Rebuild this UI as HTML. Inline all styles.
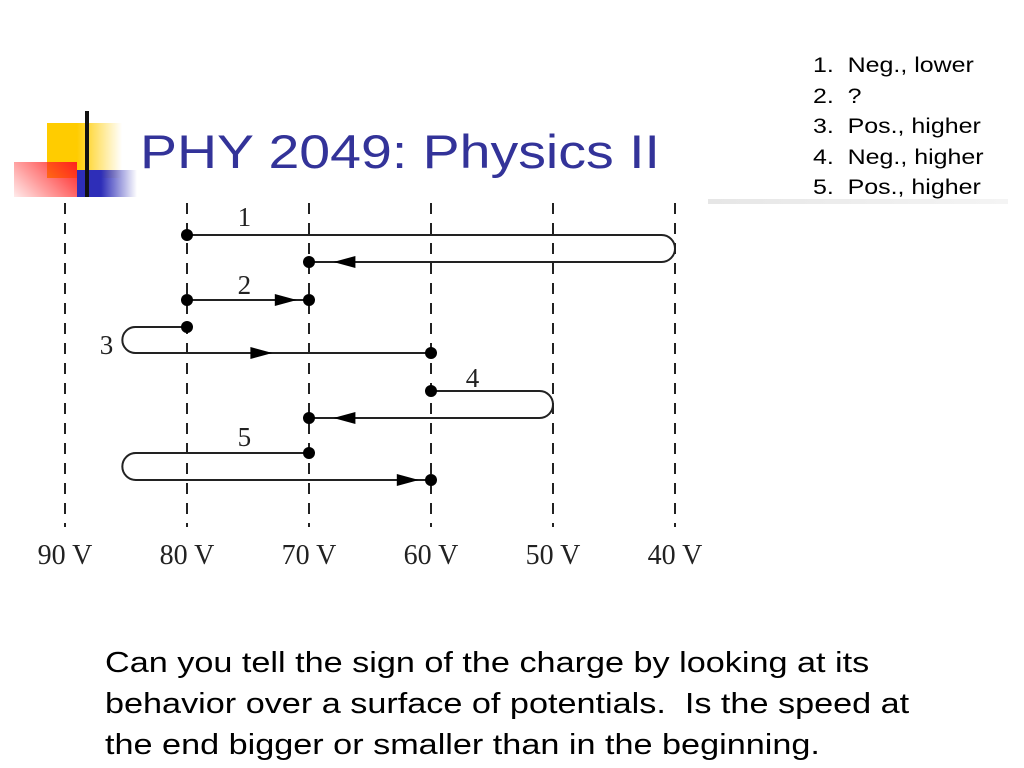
<!DOCTYPE html>
<html><head><meta charset="utf-8"><style>
body{margin:0;width:1024px;height:768px;background:#fff;overflow:hidden;position:relative;font-family:"Liberation Sans",sans-serif}
.abs{position:absolute}
</style></head><body>
<div class="abs" style="left:0;top:100px;width:160px;height:110px">
 <div class="abs" style="left:47px;top:23px;width:75px;height:55px;background:linear-gradient(90deg,#ffcc00 40%,rgba(255,204,0,0))"></div>
 <div class="abs" style="left:77px;top:70px;width:60px;height:27px;background:linear-gradient(90deg,#2e2eb8 40%,rgba(46,46,184,0))"></div>
 <div class="abs" style="left:14px;top:62px;width:63px;height:35px;background:linear-gradient(45deg,rgba(255,60,60,0.1),#ff2020)"></div>
 <div class="abs" style="left:85px;top:11px;width:4px;height:86px;background:#111"></div>
</div>
<div class="abs" style="left:140px;top:124px;font-size:47px;color:#333399;white-space:nowrap;transform:scaleX(1.18);transform-origin:0 0">PHY 2049: Physics II</div>
<div class="abs" style="left:708px;top:199px;width:300px;height:5px;background:linear-gradient(90deg,#e6e6e6,#f4f4f4)"></div>
<div class="abs" style="left:813px;top:50px;font-size:21.5px;line-height:30.5px;color:#000;white-space:nowrap;transform:scaleX(1.16);transform-origin:0 0">
 <div>1.&nbsp; Neg., lower</div><div>2.&nbsp; ?</div><div>3.&nbsp; Pos., higher</div><div>4.&nbsp; Neg., higher</div><div>5.&nbsp; Pos., higher</div>
</div>
<svg class="abs" style="left:0;top:0" width="1024" height="768" id="dg"></svg>
<div class="abs" style="left:105px;top:643px;font-size:28.5px;line-height:41px;color:#000;white-space:nowrap;transform:scaleX(1.2);transform-origin:0 0">Can you tell the sign of the charge by looking at its<br>behavior over a surface of potentials.&nbsp; Is the speed at<br>the end bigger or smaller than in the beginning.</div>
<script>
const voltages=[90,80,70,60,50,40];
const tickLabels=["90 V","80 V","70 V","60 V","50 V","40 V"];
const trackLabels=["1","2","3","4","5"];
const startV=[80,80,80,60,70];
const turnV=[40,null,85.3,50,85.3];
const endV=[70,70,60,70,60];
const rowY1=[235,300,327,391,453];
const rowY2=[262,300,353,418,480];
const arrowV=[68,71,73,68,61];
const labelV=[75.3,75.3,86.6,56.6,75.3];
const labelY=[217,285,345,378,437];
const NS="http://www.w3.org/2000/svg";
const svg=document.getElementById('dg');
const X=v=>65+(90-v)*12.2;
function mk(t,a){const e=document.createElementNS(NS,t);for(const k in a)e.setAttribute(k,a[k]);svg.appendChild(e);return e;}
voltages.forEach((v,i)=>{
 const l=mk('line',{x1:X(v),x2:X(v),y1:203,y2:527,stroke:'#222','stroke-width':2,'stroke-dasharray':'11,9'});
 
 
 const t=mk('text',{x:X(v),y:564,'text-anchor':'middle','font-family':'Liberation Serif, serif','font-size':28,fill:'#222'});
 t.textContent=tickLabels[i];
 
 
});
function dot(x,y){const c=mk('circle',{cx:x,cy:y,r:6,fill:'#000'});
 
 }
function arrow(x,y,dir){const p=mk('polygon',{points:`${x},${y} ${x-dir*22},${y-6} ${x-dir*22},${y+6}`,fill:'#000'});
 
 }
trackLabels.forEach((lab,i)=>{
 const xs=X(startV[i]),xe=X(endV[i]),y1=rowY1[i],y2=rowY2[i];
 let d;
 if(turnV[i]===null){d=`M${xs},${y1} L${xe},${y1}`;}
 else{const xt=X(turnV[i]);const r=(y2-y1)/2;const dir=xt>xs?1:-1;
  d=`M${xs},${y1} L${xt-dir*r},${y1} A${r},${r} 0 0 ${dir>0?1:0} ${xt-dir*r},${y2} L${xe},${y2}`;}
 const p=mk('path',{d:d,fill:'none',stroke:'#222','stroke-width':2});
 
 
 const ya=(turnV[i]===null)?y1:y2;
 arrow(X(arrowV[i]),ya,xe>X(arrowV[i])?1:(xe<X(arrowV[i])?-1:1));
 dot(xs,y1);dot(xe,ya);
 const t=mk('text',{x:X(labelV[i]),y:labelY[i]+9,'text-anchor':'middle','font-family':'Liberation Serif, serif','font-size':27,fill:'#222'});
 t.textContent=lab;
 
 
});
</script>
</body></html>
